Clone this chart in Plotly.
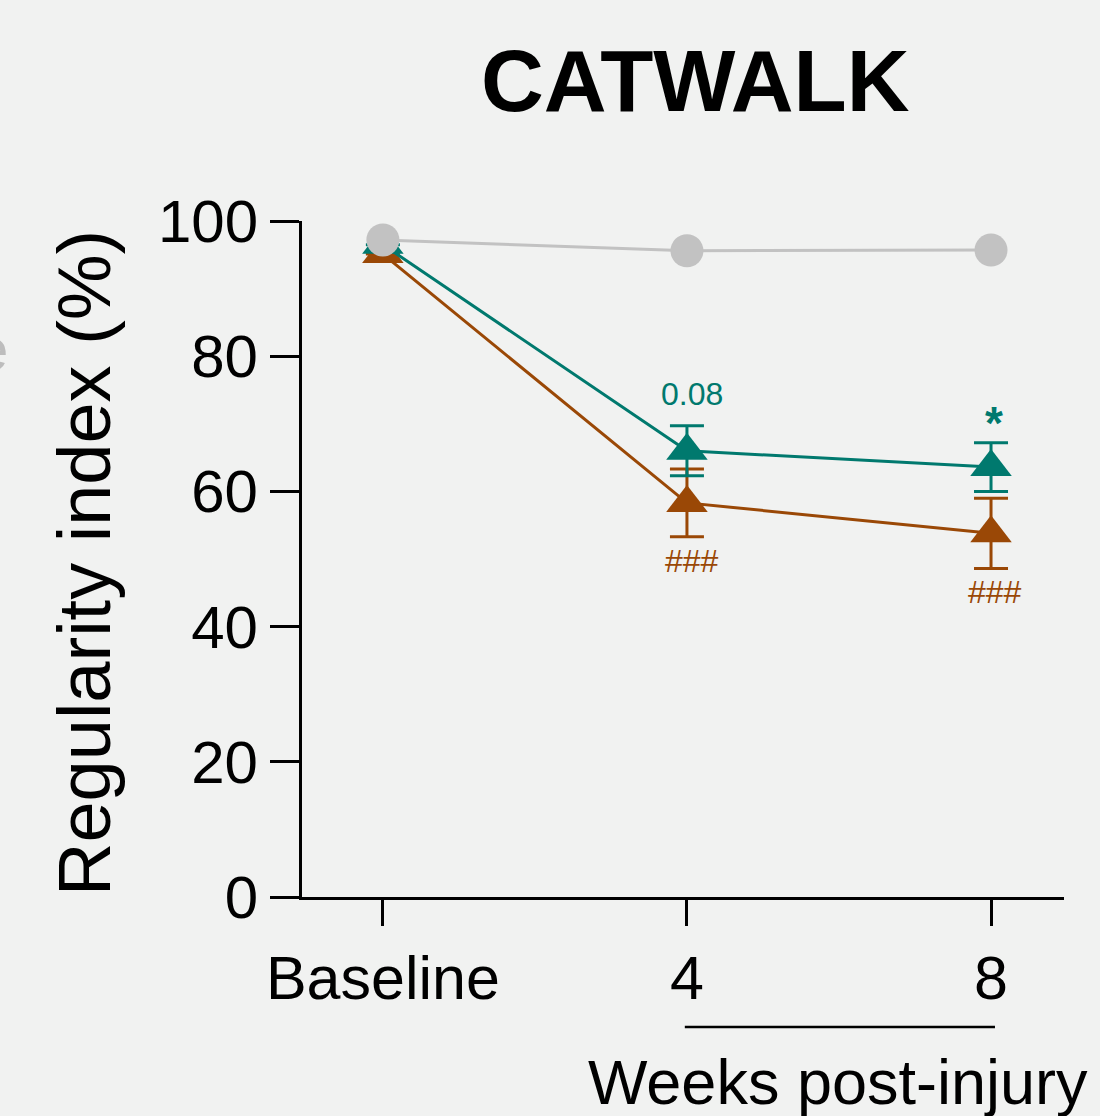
import plotly.graph_objects as go

# ---- data ----
categories = ["Baseline", "4", "8"]
x_pos = [0, 1, 2]
sham_mean = [97.2, 95.6, 95.7]
treat_mean = [96.5, 66.0, 63.6]
treat_err = [0.0, 3.7, 3.6]
ctrl_mean = [95.1, 58.3, 53.8]
ctrl_err = [0.0, 5.0, 5.2]
y_ticks = [0, 20, 40, 60, 80, 100]

TEAL = "#00796E"
ORANGE = "#9A4806"
GRAY = "#C2C2C2"
BG = "#F1F2F1"
FONT = "Liberation Sans, Arial, sans-serif"

fig = go.Figure()

fig.add_trace(go.Scatter(
    x=x_pos, y=ctrl_mean, mode="lines+markers",
    line=dict(color=ORANGE, width=3),
    marker=dict(symbol="triangle-up", size=36, color=ORANGE),
    error_y=dict(type="data", array=ctrl_err, color=ORANGE, thickness=3, width=17),
    showlegend=False, cliponaxis=False))

fig.add_trace(go.Scatter(
    x=x_pos, y=treat_mean, mode="lines+markers",
    line=dict(color=TEAL, width=3),
    marker=dict(symbol="triangle-up", size=36, color=TEAL),
    error_y=dict(type="data", array=treat_err, color=TEAL, thickness=3, width=17),
    showlegend=False, cliponaxis=False))

fig.add_trace(go.Scatter(
    x=x_pos, y=sham_mean, mode="lines+markers",
    line=dict(color=GRAY, width=3),
    marker=dict(symbol="circle", size=33, color=GRAY),
    showlegend=False, cliponaxis=False))

annotations = [
    dict(text="0.08", x=1, y=treat_mean[1] + treat_err[1], xref="x", yref="y",
         yanchor="bottom", yshift=12, xshift=5, showarrow=False,
         font=dict(size=32, color=TEAL, family=FONT)),
    dict(text="<b>*</b>", x=2, y=treat_mean[2] + treat_err[2], xref="x", yref="y",
         yanchor="bottom", yshift=-8, xshift=3, showarrow=False,
         font=dict(size=46, color=TEAL, family=FONT)),
    dict(text="###", x=1, y=ctrl_mean[1] - ctrl_err[1], xref="x", yref="y",
         yanchor="top", yshift=-4, xshift=5, showarrow=False,
         font=dict(size=32, color=ORANGE, family=FONT)),
    dict(text="###", x=2, y=ctrl_mean[2] - ctrl_err[2], xref="x", yref="y",
         yanchor="top", yshift=-4, xshift=4, showarrow=False,
         font=dict(size=32, color=ORANGE, family=FONT)),
    dict(text="<b>CATWALK</b>", x=(695 - 302) / 762, y=(897 - 80) / 676, xref="paper", yref="paper",
         xanchor="center", yanchor="middle", showarrow=False,
         font=dict(size=87, color="black", family=FONT)),
    dict(text="Regularity index (%)", x=(84 - 302) / 762, y=(897 - 563) / 676,
         xref="paper", yref="paper", xanchor="center", yanchor="middle",
         textangle=-90, showarrow=False,
         font=dict(size=74, color="black", family=FONT)),
    dict(text="Weeks post-injury", x=(838 - 302) / 762, y=(897 - 1082) / 676,
         xref="paper", yref="paper", xanchor="center", yanchor="middle",
         showarrow=False, font=dict(size=63, color="black", family=FONT)),
    dict(text="e", x=(10 - 302) / 762, y=(897 - 349) / 676,
         xref="paper", yref="paper", xanchor="right", yanchor="middle",
         showarrow=False, font=dict(size=60, color="#BDBDBD", family=FONT)),
]

fig.update_layout(
    width=1100, height=1116,
    margin=dict(l=302, r=36, t=221, b=219),
    paper_bgcolor=BG, plot_bgcolor=BG,
    font=dict(family=FONT, color="black"),
    annotations=annotations,
    shapes=[dict(type="line", xref="x", yref="paper", x0=0.993, x1=2.013,
                 y0=(897 - 1027) / 676, y1=(897 - 1027) / 676,
                 line=dict(color="black", width=2.5))],
)

fig.update_xaxes(
    range=[-0.266, 2.240], tickvals=x_pos, ticktext=categories,
    showgrid=False, zeroline=False, showline=True, linecolor="black", linewidth=3,
    ticks="outside", ticklen=26, tickwidth=3, tickcolor="black",
    tickfont=dict(size=61, color="black", family=FONT))

fig.update_yaxes(
    range=[0, 100], tickvals=y_ticks,
    showgrid=False, zeroline=False, showline=True, linecolor="black", linewidth=3,
    ticks="outside", ticklen=29, tickwidth=3, tickcolor="black",
    tickfont=dict(size=60, color="black", family=FONT))

fig.write_html(
    "out.html",
    config={"displayModeBar": False},
    post_script="document.body.style.margin='0';document.body.style.background='" + BG + "';",
)
